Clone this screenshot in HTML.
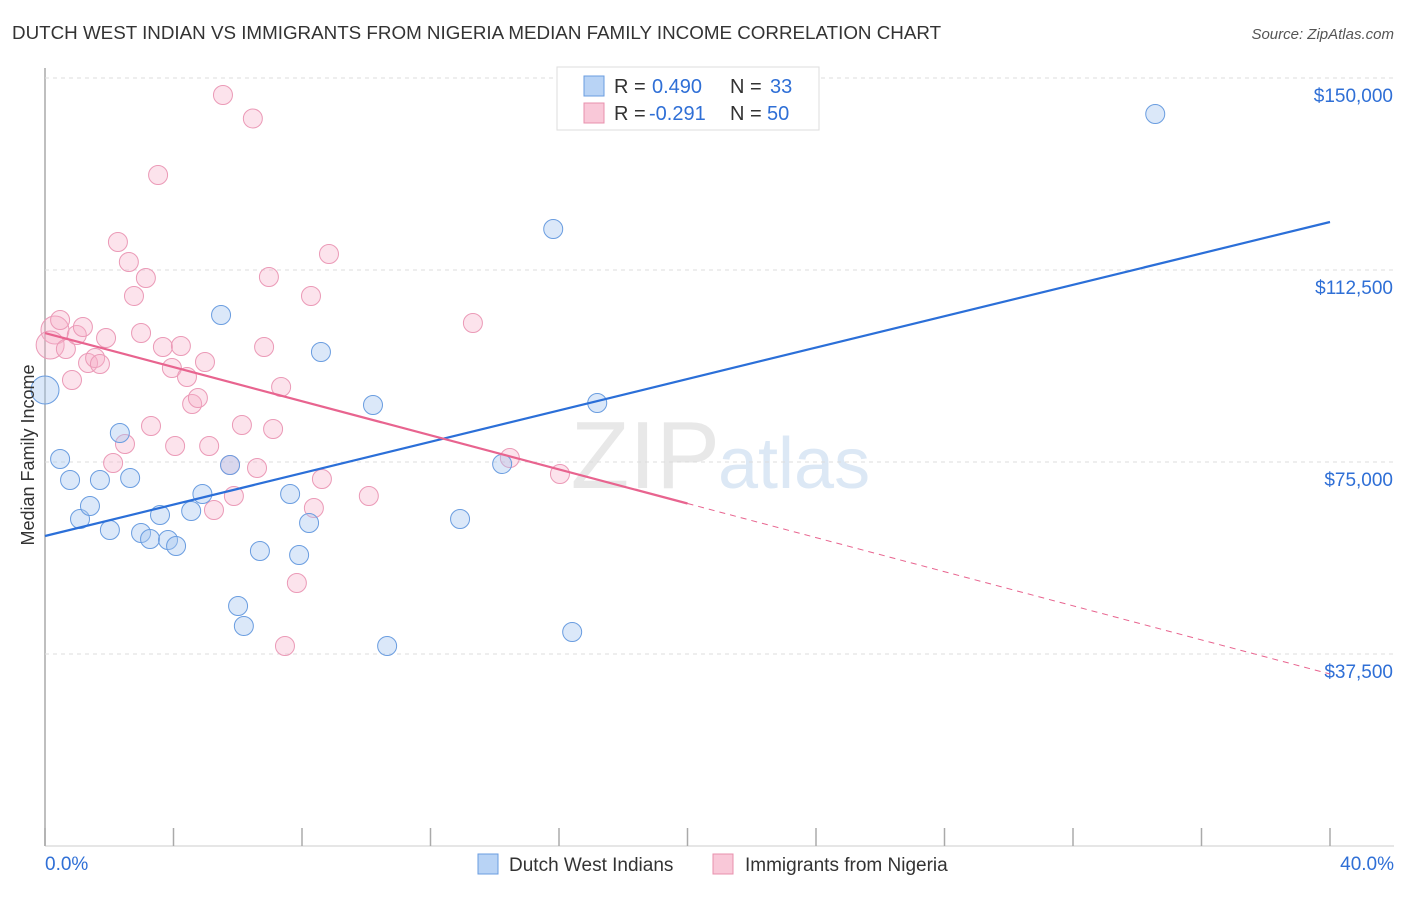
<!DOCTYPE html>
<html><head><meta charset="utf-8"><style>
body{margin:0;background:#fff;font-family:"Liberation Sans",sans-serif;}
svg text{font-family:"Liberation Sans",sans-serif;}
</style></head><body>
<svg id="c" width="1406" height="892" xmlns="http://www.w3.org/2000/svg">
<text x="12" y="39" font-size="18.8" fill="#333">DUTCH WEST INDIAN VS IMMIGRANTS FROM NIGERIA MEDIAN FAMILY INCOME CORRELATION CHART</text>
<text x="1394" y="39" font-size="15" fill="#555" text-anchor="end" font-style="italic">Source: ZipAtlas.com</text>
<text x="720" y="488" font-size="96" fill="#e8e8e8" text-anchor="end" font-family="Liberation Serif">ZIP</text>
<text x="718" y="488" font-size="72" fill="#dce8f5">atlas</text>
<g id="grid"></g><g id="pts"></g><g id="lines"></g>
<text transform="translate(34,455) rotate(-90)" font-size="18" fill="#333" text-anchor="middle">Median Family Income</text>
<g>
<rect x="557" y="67" width="262" height="63" fill="#fff" stroke="#ddd"/>
<rect x="584" y="76" width="20" height="20" fill="#b8d3f5" stroke="#6a9de0"/>
<rect x="584" y="103" width="20" height="20" fill="#f9c8d8" stroke="#e890ad"/>
<text x="614" y="93" font-size="20" fill="#333">R =</text>
<text x="652" y="93" font-size="20" fill="#2f6fd6">0.490</text>
<text x="730" y="93" font-size="20" fill="#333">N =</text>
<text x="770" y="93" font-size="20" fill="#2f6fd6">33</text>
<text x="614" y="120" font-size="20" fill="#333">R =</text>
<text x="649" y="120" font-size="20" fill="#2f6fd6">-0.291</text>
<text x="730" y="120" font-size="20" fill="#333">N =</text>
<text x="767" y="120" font-size="20" fill="#2f6fd6">50</text>
</g>
<g>
<rect x="478" y="854" width="20" height="20" fill="#b8d3f5" stroke="#6a9de0"/>
<text x="509" y="871" font-size="19" fill="#333">Dutch West Indians</text>
<rect x="713" y="854" width="20" height="20" fill="#f9c8d8" stroke="#e890ad"/>
<text x="745" y="871" font-size="19" fill="#333">Immigrants from Nigeria</text>
</g>
</svg>
<script>
const yTicks=[37500,75000,112500,150000];
const yTickLabels=["$37,500","$75,000","$112,500","$150,000"];
const xTickLabels=["0.0%","40.0%"];
const blueX=[0,0.47,0.78,1.09,1.4,1.71,2.02,2.33,2.65,2.99,3.27,3.58,3.83,4.08,4.55,4.9,5.48,5.76,6.01,6.19,6.69,7.63,7.91,8.22,8.59,10.21,10.65,12.92,14.23,15.82,16.41,17.19,34.56];
const blueY=[89063,75586,71484,63867,66406,71484,61719,80664,71875,61133,59961,64648,59766,58594,65430,68750,103711,74414,46875,42969,57617,68750,56836,63086,96484,86133,39063,63867,74609,120508,41797,86523,142969];
const pinkX=[0.31,0.16,0.47,0.65,0.84,0.99,1.18,1.34,1.56,1.71,1.9,2.12,2.27,2.49,2.61,2.77,2.99,3.14,3.3,3.52,3.67,3.95,4.05,4.23,4.42,4.58,4.76,4.98,5.11,5.26,5.54,5.76,5.88,6.13,6.47,6.6,6.82,6.97,7.1,7.35,7.47,7.84,8.28,8.37,8.62,8.84,10.08,13.32,14.47,16.03];
const pinkY=[100781,97852,102734,97070,91016,99805,101367,94336,95313,94141,99219,74805,117969,78516,114063,107422,100195,110938,82031,131055,97461,93359,78125,97656,91602,86328,87500,94531,78125,65625,146680,74414,68359,82227,142090,73828,97461,111133,81445,89648,39063,51367,107422,66016,71680,115625,68359,102148,75781,72656];
const bigBlue=[0], bigPink=[0,1];
const X0=45,X1=1330,Y0=846,PX=(X1-X0)/40,PY=192/37500;
const sx=v=>X0+v*PX, sy=v=>Y0-v*PY;
const NS="http://www.w3.org/2000/svg";
function mk(t,a,p){const e=document.createElementNS(NS,t);for(const k in a)e.setAttribute(k,a[k]);p.appendChild(e);return e;}
const g=document.getElementById('grid');
mk('line',{x1:X0,y1:68,x2:X0,y2:Y0,stroke:'#aaa','stroke-width':1.5},g);
mk('line',{x1:X0,y1:Y0,x2:1394,y2:Y0,stroke:'#ccc'},g);
for(let i=0;i<=10;i++){const l=mk('line',{x1:sx(i*4),y1:Y0,x2:sx(i*4),y2:828,stroke:'#aaa','stroke-width':1.5},g);

}
yTicks.forEach((v,i)=>{const l=mk('line',{x1:X0,y1:sy(v),x2:1394,y2:sy(v),stroke:'#ddd','stroke-dasharray':'4,4'},g);


const t=mk('text',{x:1393,y:sy(v)+24,'font-size':19,fill:'#2f6fd6','text-anchor':'end'},g);t.textContent=yTickLabels[i];

});
const t0=mk('text',{x:45,y:870,'font-size':19,fill:'#2f6fd6'},g);t0.textContent=xTickLabels[0];


const t1=mk('text',{x:1394,y:870,'font-size':19,fill:'#2f6fd6','text-anchor':'end'},g);t1.textContent=xTickLabels[1];


const p=document.getElementById('pts');
pinkX.forEach((x,i)=>{const c=mk('circle',{cx:sx(x),cy:sy(pinkY[i]),r:bigPink.includes(i)?14:9.5,fill:'rgba(246,175,200,0.35)',stroke:'#eb9ab7','stroke-width':1},p);

});
blueX.forEach((x,i)=>{const c=mk('circle',{cx:sx(x),cy:sy(blueY[i]),r:bigBlue.includes(i)?14:9.5,fill:'rgba(165,198,240,0.4)',stroke:'#6a9de0','stroke-width':1},p);

});
const L=document.getElementById('lines');
const bl=mk('line',{x1:sx(0),y1:sy(60547),x2:sx(40),y2:sy(121875),stroke:'#2b6fd8','stroke-width':2.2},L);


const pa=100195,pb=33594,pm=pa+(pb-pa)*0.5;
const pl=mk('line',{x1:sx(0),y1:sy(pa),x2:sx(20),y2:sy(pm),stroke:'#e8648f','stroke-width':2.2},L);


const pd=mk('line',{x1:sx(20),y1:sy(pm),x2:sx(40),y2:sy(pb),stroke:'#e8648f','stroke-width':1,'stroke-dasharray':'6,5'},L);


</script>
</body></html>
